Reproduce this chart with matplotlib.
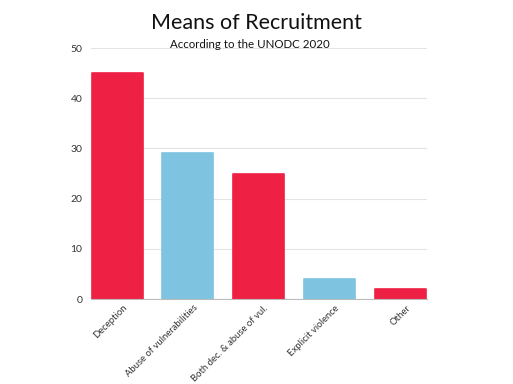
import matplotlib
matplotlib.use('Agg')
import matplotlib.pyplot as plt
from matplotlib.transforms import ScaledTranslation

plt.rcParams['font.family'] = ['Lato', 'DejaVu Sans']

categories = ['Deception', 'Abuse of vulnerabilities', 'Both dec. & abuse of vul.',
              'Explicit violence', 'Other']
values = [45, 29, 25, 4, 2]
colors = ['#EE2145', '#7EC4E0', '#EE2145', '#7EC4E0', '#EE2145']

fig = plt.figure(figsize=(5.13, 3.84), dpi=100)
ax = fig.add_axes([0.177, 0.221, 0.655, 0.654])

x = range(len(categories))
bars = ax.bar(x, values, width=0.72, color=colors, edgecolor=colors,
              linewidth=1.2, zorder=3)
for b in bars:
    b.set_joinstyle('round')
ax.set_xlim(-0.37, len(categories) - 1 + 0.37)
ax.set_ylim(0, 50)
ax.set_yticks([0, 10, 20, 30, 40, 50])
ax.grid(axis='y', color='#e3e3e3', linewidth=0.8, zorder=0)

for s in ['top', 'right', 'left']:
    ax.spines[s].set_visible(False)
ax.spines['bottom'].set_color('#bbbbbb')
ax.spines['bottom'].set_zorder(4)
ax.tick_params(axis='y', length=0, labelsize=7.5, colors='#333333', pad=6)
ax.tick_params(axis='x', length=0, labelsize=6.8, colors='#333333', pad=3)

ax.set_xticks(list(x))
ax.set_xticklabels(categories, rotation=45, ha='right', rotation_mode='anchor')
shift = ScaledTranslation(5 / 100, 0, fig.dpi_scale_trans)
for lbl in ax.get_xticklabels():
    lbl.set_transform(lbl.get_transform() + shift)

fig.text(0.5, 0.94, 'Means of Recruitment', ha='center', va='center', fontsize=15.5, color='#111111')
fig.text(0.488, 0.883, 'According to the UNODC 2020', ha='center', va='center', fontsize=8.3, color='#111111')

plt.savefig('out.png', dpi=100)
